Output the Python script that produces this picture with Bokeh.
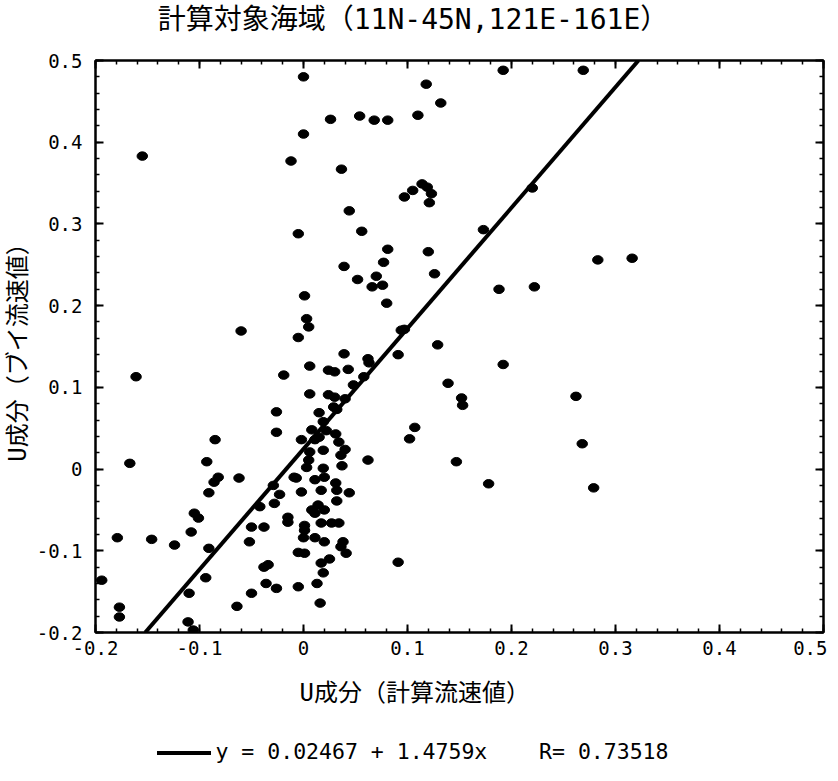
from bokeh.plotting import figure
from bokeh.models import FixedTicker, LinearAxis, Range1d, ColumnDataSource, Div, Title
from bokeh.layouts import column
from bokeh.embed import file_html
from bokeh.resources import INLINE
import numpy as np

# ---- data ----
x_vals = [
    0.000, 0.000, -0.155, -0.012, -0.005, 0.001, 0.003, 0.005, -0.060, -0.005,
    0.118, 0.132, 0.026, 0.054, 0.068, 0.081, 0.110, 0.0365, 0.044, 0.056,
    0.114, 0.119, 0.105, 0.097, 0.123, 0.121, 0.081, 0.077, 0.039, 0.052,
    0.070, 0.076, 0.066, 0.080, 0.120, 0.126, 0.173, 0.188, 0.192, 0.269,
    0.220, 0.283, 0.316, 0.222, 0.192, 0.262, 0.268, 0.178, 0.279, 0.094,
    0.097, 0.129, 0.091, 0.039, 0.062, 0.063, 0.030, 0.024, 0.043, 0.058,
    0.048, 0.040, 0.030, 0.032, 0.139, 0.152, 0.153, 0.107, 0.102, 0.062,
    0.147, 0.091, 0.031, 0.034, 0.040, 0.036, 0.037, 0.031, 0.032, 0.044,
    0.032, 0.034, 0.038, 0.036, 0.041,
    0.006, 0.015, 0.019, -0.002, 0.011, 0.015, 0.006, 0.019, 0.003, 0.019,
    -0.007, 0.020, 0.011, -0.002, 0.017, 0.014, 0.008, 0.011, 0.020, -0.015,
    -0.015, 0.001, 0.001, 0.017, 0.027, 0.000, 0.011, 0.020, -0.005, 0.001,
    0.025, 0.017, 0.019, -0.005, 0.013, 0.016, 0.006, 0.024, 0.029, 0.005,
    -0.009, 0.008, 0.022,
    -0.161, -0.167, -0.019, -0.026, -0.026, -0.085, -0.093, -0.082, -0.086, -0.062,
    -0.091, -0.029, -0.023, -0.028, -0.105, -0.101, -0.042, -0.050, -0.038, -0.108,
    -0.052, -0.124, -0.146, -0.179, -0.091, -0.038, -0.034, -0.094, -0.036, -0.026,
    -0.050, -0.110, -0.064, -0.194, -0.177, -0.177, -0.111, -0.106,
]
y_vals = [
    0.480, 0.410, 0.383, 0.377, 0.288, 0.212, 0.184, 0.174, 0.169, 0.161,
    0.471, 0.448, 0.428, 0.432, 0.427, 0.427, 0.433, 0.367, 0.316, 0.291,
    0.349, 0.345, 0.341, 0.333, 0.337, 0.326, 0.269, 0.253, 0.248, 0.232,
    0.236, 0.225, 0.223, 0.203, 0.266, 0.239, 0.293, 0.220, 0.488, 0.488,
    0.344, 0.256, 0.258, 0.223, 0.128, 0.089, 0.031, -0.018, -0.023, 0.170,
    0.171, 0.152, 0.140, 0.141, 0.135, 0.130, 0.119, 0.121, 0.122, 0.113,
    0.103, 0.086, 0.088, 0.073, 0.105, 0.087, 0.078, 0.051, 0.037, 0.011,
    0.009, -0.114, 0.043, 0.033, 0.024, 0.017, 0.004, -0.017, -0.026, -0.029,
    -0.039, -0.066, -0.089, -0.095, -0.103,
    0.092, 0.069, 0.058, 0.036, 0.036, 0.039, 0.021, 0.023, 0.002, 0.001,
    -0.011, -0.010, -0.013, -0.028, -0.026, -0.044, -0.050, -0.054, -0.050, -0.059,
    -0.065, -0.069, -0.075, -0.066, -0.066, -0.084, -0.084, -0.089, -0.102, -0.103,
    -0.110, -0.115, -0.127, -0.144, -0.140, -0.164, 0.126, 0.091, 0.076, 0.011,
    -0.010, 0.048, 0.047,
    0.113, 0.007, 0.115, 0.070, 0.045, 0.036, 0.009, -0.010, -0.016, -0.011,
    -0.029, -0.020, -0.031, -0.042, -0.054, -0.060, -0.046, -0.071, -0.071, -0.077,
    -0.089, -0.093, -0.086, -0.084, -0.097, -0.120, -0.117, -0.133, -0.140, -0.146,
    -0.152, -0.152, -0.168, -0.136, -0.169, -0.181, -0.187, -0.197,
]

intercept = 0.02467
slope = 1.4759
r_value = 0.73518

title_text = "計算対象海域（11N-45N,121E-161E）"
x_label = "U成分（計算流速値）"
y_label = "U成分（ブイ流速値）"

x_ticks = [-0.2, -0.1, 0.0, 0.1, 0.2, 0.3, 0.4, 0.5]
x_tick_labels = ["-0.2", "-0.1", "0", "0.1", "0.2", "0.3", "0.4", "0.5"]
y_ticks = [-0.2, -0.1, 0.0, 0.1, 0.2, 0.3, 0.4, 0.5]
y_tick_labels = ["-0.2", "-0.1", "0", "0.1", "0.2", "0.3", "0.4", "0.5"]

x_min, x_max = -0.2, 0.5
y_min, y_max = -0.2, 0.5

FONT = "DejaVu Sans Mono, Noto Sans CJK JP"
CSS_FONT = "'DejaVu Sans Mono','Noto Sans CJK JP',monospace"
PAGE_W = 826

title_div = Div(
    text=(f'<div style="width:{PAGE_W}px;text-align:center;font-family:{CSS_FONT};'
          f'font-size:28px;line-height:40px;white-space:pre;color:black;">{title_text}</div>'),
    width=PAGE_W, height=38, margin=0)

p = figure(frame_width=728, frame_height=572,
           x_range=Range1d(x_min, x_max), y_range=Range1d(y_min, y_max),
           output_backend="svg", toolbar_location=None,
           min_border_left=94, min_border_right=4,
           min_border_top=22, min_border_bottom=101, margin=0)

p.xgrid.visible = False
p.ygrid.visible = False
p.outline_line_color = "black"
p.outline_line_width = 2
p.background_fill_color = "white"
p.border_fill_color = "white"

minor_x = [round(v, 3) for v in np.arange(x_min, x_max + 1e-9, 0.02)]
minor_y = [round(v, 3) for v in np.arange(y_min, y_max + 1e-9, 0.02)]

def style_axis(ax, ticks, minor, labels, show_labels, label_text=None):
    ax.ticker = FixedTicker(ticks=ticks, minor_ticks=minor)
    ax.major_tick_in = 8
    ax.major_tick_out = 0
    ax.minor_tick_in = 4
    ax.minor_tick_out = 0
    ax.axis_line_width = 2
    ax.major_tick_line_width = 2
    ax.minor_tick_line_width = 1.5
    ax.axis_line_color = "black"
    ax.major_tick_line_color = "black"
    ax.minor_tick_line_color = "black"
    if show_labels:
        ax.major_label_overrides = {t: l for t, l in zip(ticks, labels)}
        ax.major_label_text_font = FONT
        ax.major_label_text_font_size = "19px"
        ax.major_label_text_color = "black"
    else:
        ax.major_label_text_font_size = "0px"
        ax.major_label_text_alpha = 0
        ax.major_label_standoff = 0
    if label_text:
        ax.axis_label = label_text
        ax.axis_label_text_font = FONT
        ax.axis_label_text_font_size = "24px"
        ax.axis_label_text_font_style = "normal"
        ax.axis_label_text_color = "black"

style_axis(p.xaxis[0], x_ticks, minor_x, x_tick_labels, True)
style_axis(p.yaxis[0], y_ticks, minor_y, y_tick_labels, True, y_label)
p.xaxis[0].major_label_standoff = 8
p.yaxis[0].major_label_standoff = 13
p.yaxis[0].axis_label_standoff = 2

top_ax = LinearAxis()
style_axis(top_ax, x_ticks, minor_x, x_tick_labels, False)
p.add_layout(top_ax, "above")
right_ax = LinearAxis()
style_axis(right_ax, y_ticks, minor_y, y_tick_labels, False)
p.add_layout(right_ax, "right")

# x-axis caption, placed left of the frame centre as in the reference
xcap = Title(text=x_label, align="left", offset=204, standoff=38,
             text_font=FONT, text_font_size="24px", text_font_style="normal",
             text_color="black")
p.add_layout(xcap, "below")

src = ColumnDataSource(dict(x=x_vals, y=y_vals))
p.ellipse(x="x", y="y", width=10.5, height=8.5, width_units="screen", height_units="screen",
          source=src, fill_color="black", line_color="black")

# regression line across the y range
lx = [(y_min - intercept) / slope, (y_max - intercept) / slope]
ly = [intercept + slope * v for v in lx]
reg = p.line(lx, ly, line_color="black", line_width=4)

legend_label = f"y = {intercept:.5f} + {slope:.4f}x    R= {r_value:.5f}"
legend_html = (
    f'<div style="width:{PAGE_W}px;text-align:center;font-family:{CSS_FONT};'
    'font-size:21.5px;white-space:pre;line-height:30px;padding-top:4px;color:black;">'
    '<span style="display:inline-block;width:54px;height:0;'
    'border-top:4px solid black;vertical-align:middle;margin-right:4px;"></span>'
    f'{legend_label}</div>'
)
legend_div = Div(text=legend_html, width=PAGE_W, height=40, margin=0)

layout = column(title_div, p, legend_div, spacing=0)
open("out.html", "w").write(file_html(layout, INLINE))
